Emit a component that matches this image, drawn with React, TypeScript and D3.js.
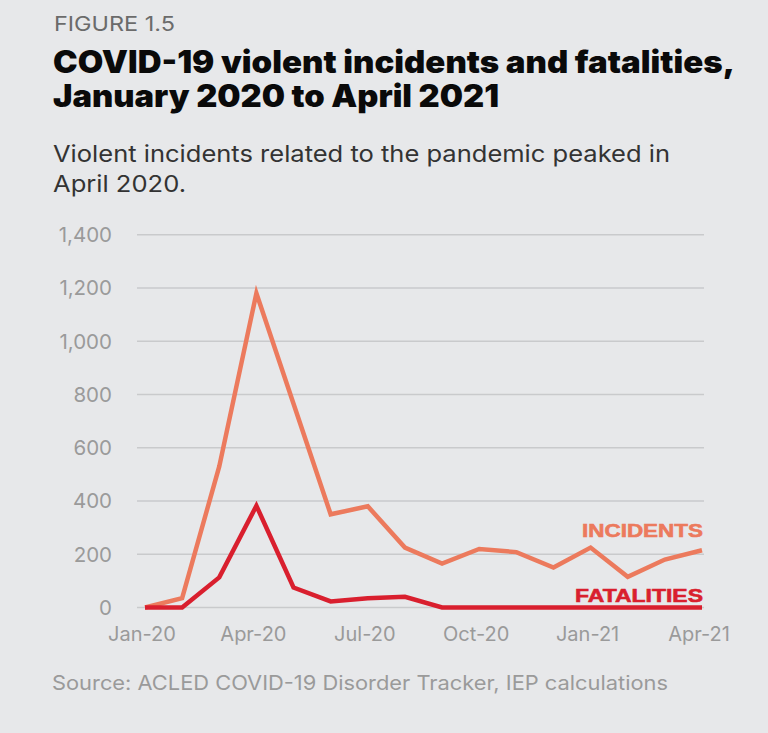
import React from "react";
import * as d3 from "d3";

const months = ["Jan-20","Feb-20","Mar-20","Apr-20","May-20","Jun-20","Jul-20","Aug-20","Sep-20","Oct-20","Nov-20","Dec-20","Jan-21","Feb-21","Mar-21","Apr-21"];
const incidents = [0, 35, 530, 1180, 765, 350, 380, 225, 165, 220, 208, 150, 225, 115, 180, 215];
const fatalities = [0, 0, 113, 382, 75, 23, 35, 40, 0, 0, 0, 0, 0, 0, 0, 0];
const yTicks = [0, 200, 400, 600, 800, 1000, 1200, 1400];
const xTickLabels = ["Jan-20", "Apr-20", "Jul-20", "Oct-20", "Jan-21", "Apr-21"];

const W = 768, H = 733;
const BG = "#E7E8EA";
const INC = "#EC7A5D";
const FAT = "#D91F2E";

export default function App() {
  const x = d3.scaleLinear().domain([0, months.length - 1]).range([145, 702]);
  const y = d3.scaleLinear().domain([0, 1400]).range([607.5, 234.7]);
  const line = d3.line<number>().x((_, i) => x(i)).y((d) => y(d));
  const fmt = d3.format(",");
  const sans = "Inter, 'Open Sans', 'DejaVu Sans', sans-serif";

  return (
    <svg width={W} height={H} style={{ position: "fixed", left: 0, top: 0, display: "block", background: BG }}>
      <rect width={W} height={H} fill={BG} />
      <text x={54} y={30.5} fontFamily={sans} fontSize={20} fill="#6b6b6b" textLength={121} lengthAdjust="spacingAndGlyphs">FIGURE 1.5</text>
      <text x={53} y={73} fontFamily={sans} fontWeight={900} fontSize={31} fill="#0a0a0a" textLength={682} lengthAdjust="spacingAndGlyphs">COVID-19 violent incidents and fatalities,</text>
      <text x={53} y={106.5} fontFamily={sans} fontWeight={900} fontSize={31} fill="#0a0a0a" textLength={446} lengthAdjust="spacingAndGlyphs">January 2020 to April 2021</text>
      <text x={53} y={161.5} fontFamily={sans} fontSize={23} fill="#333" textLength={617} lengthAdjust="spacingAndGlyphs">Violent incidents related to the pandemic peaked in</text>
      <text x={53} y={191.5} fontFamily={sans} fontSize={23} fill="#333" textLength={133} lengthAdjust="spacingAndGlyphs">April 2020.</text>

      {yTicks.map((t) => (
        <g key={t}>
          <line x1={137} x2={704} y1={y(t)} y2={y(t)} stroke="#C9CACC" strokeWidth={1.5} />
          <text x={112} y={y(t)} dy="0.36em" textAnchor="end" fontFamily={sans} fontSize={20.5} fill="#9a9a9a">{fmt(t)}</text>
        </g>
      ))}

      {xTickLabels.map((lab) => (
        <text key={lab} x={x(months.indexOf(lab)) - 3} y={641} textAnchor="middle" fontFamily={sans} fontSize={20} fill="#9a9a9a">{lab}</text>
      ))}

      <path d={line(incidents) || ""} fill="none" stroke={INC} strokeWidth={4.5} strokeLinejoin="miter" />
      <path d={line(fatalities) || ""} fill="none" stroke={FAT} strokeWidth={4.5} strokeLinejoin="miter" />

      <text x={703} y={536.7} textAnchor="end" fontFamily="'Liberation Sans', Arial, sans-serif" fontWeight={700} fontSize={18.5} fill={INC} stroke={INC} strokeWidth={0.6} textLength={121} lengthAdjust="spacingAndGlyphs">INCIDENTS</text>
      <text x={703} y={601.7} textAnchor="end" fontFamily="'Liberation Sans', Arial, sans-serif" fontWeight={700} fontSize={18.5} fill={FAT} stroke={FAT} strokeWidth={0.6} textLength={128} lengthAdjust="spacingAndGlyphs">FATALITIES</text>

      <text x={52} y={690} fontFamily={sans} fontSize={20} fill="#9a9a9a" textLength={616} lengthAdjust="spacingAndGlyphs">Source: ACLED COVID-19 Disorder Tracker, IEP calculations</text>
    </svg>
  );
}
